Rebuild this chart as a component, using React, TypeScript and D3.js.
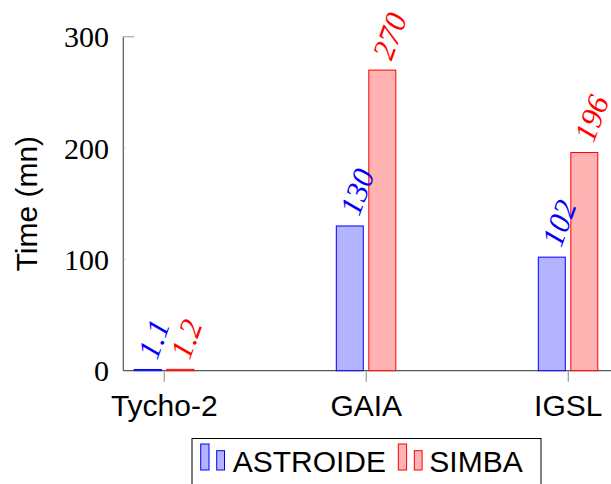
import React from "react";
import * as d3 from "d3";

const categories = ["Tycho-2", "GAIA", "IGSL"];
const astroide = [1.1, 130, 102];
const simba = [1.2, 270, 196];
const yTicks = [0, 100, 200, 300];
const seriesNames = ["ASTROIDE", "SIMBA"];

const W = 611;
const H = 484;
const axisLeft = 123.3;
const axisRight = 611;
const axisTop = 36.7;
const axisBottom = 370.7;

const BLUE = "#0000ff";
const BLUE_FILL = "#b3b3ff";
const RED = "#ff0000";
const RED_FILL = "#ffb3b3";
const SANS = "'Liberation Sans', Arial, sans-serif";
const SERIF = "'Liberation Serif', 'Times New Roman', serif";

export default function App() {
  const y = d3.scaleLinear().domain([0, 300]).range([axisBottom, axisTop]);
  const x = d3.scalePoint<string>().domain(categories).range([164.3, 568.3]);

  const series = [
    { name: seriesNames[0], values: astroide, stroke: BLUE, fill: BLUE_FILL, x0: -30, x1: -3 },
    { name: seriesNames[1], values: simba, stroke: RED, fill: RED_FILL, x0: 2.5, x1: 29.5 },
  ];

  return (
    <svg
      width={W}
      height={H}
      style={{ position: "absolute", left: 0, top: 0, display: "block", background: "#fff" }}
    >
      {/* axes */}
      <line x1={axisLeft} y1={axisTop} x2={axisLeft} y2={axisBottom} stroke="#555" strokeWidth={1.2} />
      <line x1={axisLeft} y1={axisBottom} x2={axisRight} y2={axisBottom} stroke="#555" strokeWidth={1.2} />
      {yTicks.map((t) => (
        <g key={t}>
          {t === 300 ? (
            <line x1={axisLeft} x2={axisLeft + 11} y1={y(t)} y2={y(t)} stroke="#aaa" strokeWidth={1.2} />
          ) : t > 0 ? (
            <line x1={axisLeft} x2={axisLeft + 2} y1={y(t)} y2={y(t)} stroke="#aaa" strokeWidth={1} />
          ) : null}
          <text
            x={109}
            y={y(t)}
            textAnchor="end"
            dominantBaseline="central"
            fontFamily={SERIF}
            fontSize={30}
            fill="#000"
          >
            {t}
          </text>
        </g>
      ))}
      {categories.map((c) => (
        <g key={c}>
          <line x1={x(c)} x2={x(c)} y1={axisBottom} y2={axisBottom + 11} stroke="#999" strokeWidth={1.2} />
          <text x={x(c)} y={415.7} textAnchor="middle" fontFamily={SANS} fontSize={30} fill="#000">
            {c}
          </text>
        </g>
      ))}
      <text
        transform={`translate(37,${(axisTop + axisBottom) / 2}) rotate(-90)`}
        textAnchor="middle"
        fontFamily={SANS}
        fontSize={30}
        fill="#000"
      >
        Time (mn)
      </text>

      {/* bars */}
      {series.map((s) =>
        categories.map((c, i) => {
          const cx = x(c)!;
          const top = y(s.values[i]);
          return (
            <rect
              key={s.name + c}
              x={cx + s.x0}
              y={top}
              width={s.x1 - s.x0}
              height={Math.max(axisBottom - top, 0.5)}
              fill={s.fill}
              stroke={s.stroke}
              strokeWidth={1}
            />
          );
        })
      )}

      {/* value labels */}
      {series.map((s) =>
        categories.map((c, i) => {
          const cx = x(c)! + (s.x0 + s.x1) / 2 - 5;
          const top = y(s.values[i]);
          return (
            <text
              key={"l" + s.name + c}
              transform={`translate(${cx},${top}) rotate(-70)`}
              x={13}
              dominantBaseline="central"
              fontFamily={SERIF}
              fontStyle="italic"
              fontSize={31}
              fill={s.stroke}
            >
              {s.values[i]}
            </text>
          );
        })
      )}

      {/* legend */}
      <rect x={192} y={438.5} width={349} height={60} fill="#fff" stroke="#000" strokeWidth={1} />
      {series.map((s, k) => {
        const bx = k === 0 ? 200.7 : 398.3;
        const tx = k === 0 ? 232.7 : 429.3;
        return (
          <g key={"lg" + s.name}>
            <rect x={bx} y={444} width={8.3} height={26} fill={s.fill} stroke={s.stroke} strokeWidth={1} />
            <rect x={bx + 16} y={450.7} width={7.8} height={19.3} fill={s.fill} stroke={s.stroke} strokeWidth={1} />
            <text x={tx} y={471.7} fontFamily={SANS} fontSize={30} fill="#000">
              {s.name}
            </text>
          </g>
        );
      })}
    </svg>
  );
}
